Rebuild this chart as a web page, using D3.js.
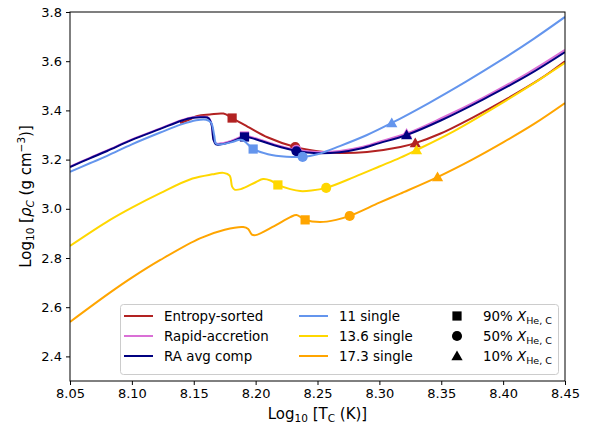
<!DOCTYPE html>
<html><head><meta charset="utf-8">
<script src="https://cdn.jsdelivr.net/npm/d3@7"></script>
<style>body{margin:0;background:#fff}svg{display:block}text{font-family:"DejaVu Sans",sans-serif;fill:#000}</style>
</head><body><svg id="c" width="589" height="427"></svg>
<script>
// ---- data ----
const entropyT   = [8.139, 8.146, 8.153, 8.163, 8.174, 8.181, 8.195, 8.21, 8.232, 8.25, 8.268, 8.29, 8.317, 8.329, 8.349, 8.375, 8.403, 8.43, 8.45];
const entropyRho = [3.349, 3.362, 3.377, 3.383, 3.387, 3.369, 3.33, 3.29, 3.251, 3.234, 3.227, 3.231, 3.251, 3.267, 3.305, 3.37, 3.447, 3.528, 3.60];

const rapidT   = [8.05, 8.066, 8.08, 8.10, 8.123, 8.14, 8.149, 8.158, 8.162, 8.1645, 8.166, 8.168, 8.172, 8.18, 8.191, 8.20, 8.215, 8.233, 8.25, 8.268, 8.285, 8.30, 8.322, 8.35, 8.384, 8.42, 8.45];
const rapidRho = [3.172, 3.207, 3.237, 3.282, 3.327, 3.36, 3.372, 3.374, 3.37, 3.343, 3.284, 3.266, 3.266, 3.276, 3.296, 3.287, 3.262, 3.24, 3.231, 3.235, 3.25, 3.273, 3.306, 3.368, 3.452, 3.552, 3.646];

const raAvgT   = [8.05, 8.066, 8.08, 8.10, 8.123, 8.14, 8.149, 8.158, 8.162, 8.1645, 8.166, 8.168, 8.172, 8.18, 8.191, 8.20, 8.215, 8.233, 8.25, 8.268, 8.285, 8.30, 8.322, 8.35, 8.384, 8.42, 8.45];
const raAvgRho = [3.17, 3.205, 3.235, 3.28, 3.325, 3.358, 3.37, 3.372, 3.368, 3.34, 3.28, 3.262, 3.262, 3.272, 3.292, 3.283, 3.258, 3.235, 3.226, 3.23, 3.245, 3.267, 3.30, 3.36, 3.445, 3.543, 3.637];

const s11T   = [8.05, 8.066, 8.08, 8.10, 8.123, 8.14, 8.152, 8.16, 8.164, 8.1665, 8.168, 8.172, 8.18, 8.189, 8.198, 8.21, 8.225, 8.238, 8.25, 8.268, 8.29, 8.31, 8.34, 8.37, 8.397, 8.425, 8.45];
const s11Rho = [3.15, 3.185, 3.215, 3.262, 3.31, 3.343, 3.36, 3.362, 3.35, 3.30, 3.265, 3.262, 3.27, 3.28, 3.243, 3.222, 3.212, 3.211, 3.222, 3.255, 3.30, 3.349, 3.43, 3.517, 3.60, 3.692, 3.78];

const s136T   = [8.05, 8.082, 8.10, 8.123, 8.149, 8.165, 8.174, 8.179, 8.181, 8.183, 8.188, 8.20, 8.206, 8.212, 8.218, 8.228, 8.236, 8.245, 8.257, 8.28, 8.30, 8.317, 8.33, 8.36, 8.403, 8.43, 8.45];
const s136Rho = [2.849, 2.954, 3.005, 3.064, 3.123, 3.14, 3.146, 3.135, 3.09, 3.078, 3.08, 3.108, 3.121, 3.115, 3.097, 3.08, 3.072, 3.074, 3.085, 3.13, 3.172, 3.208, 3.239, 3.315, 3.442, 3.527, 3.593];

const s173T   = [8.05, 8.082, 8.10, 8.123, 8.155, 8.175, 8.19, 8.194, 8.197, 8.20, 8.215, 8.228, 8.233, 8.24, 8.252, 8.265, 8.276, 8.30, 8.317, 8.347, 8.375, 8.40, 8.425, 8.45];
const s173Rho = [2.54, 2.658, 2.72, 2.792, 2.88, 2.915, 2.926, 2.918, 2.895, 2.893, 2.93, 2.966, 2.975, 2.955, 2.946, 2.955, 2.971, 3.025, 3.062, 3.129, 3.20, 3.27, 3.345, 3.43];

// He fraction markers: [T, rho] for 90%, 50%, 10% per series
const entropyMarks = [[8.181, 3.369], [8.232, 3.251], [8.329, 3.267]];
const rapidMarks   = [[8.191, 3.296], [8.233, 3.24], [8.322, 3.306]];
const raAvgMarks   = [[8.191, 3.292], [8.233, 3.234], [8.322, 3.30]];
const s11Marks     = [[8.198, 3.243], [8.238, 3.211], [8.310, 3.349]];
const s136Marks    = [[8.218, 3.097], [8.257, 3.085], [8.330, 3.239]];
const s173Marks    = [[8.240, 2.955], [8.276, 2.971], [8.347, 3.129]];

const seriesNames = ["Entropy-sorted", "Rapid-accretion", "RA avg comp", "11 single", "13.6 single", "17.3 single"];
const markerNames = ["90%", "50%", "10%"];
const xTicks = [8.05, 8.10, 8.15, 8.20, 8.25, 8.30, 8.35, 8.40, 8.45];
const yTicks = [2.4, 2.6, 2.8, 3.0, 3.2, 3.4, 3.6, 3.8];

// ---- drawing ----
const colors = ["#b22222", "#da70d6", "#000080", "#6495ed", "#ffd700", "#ffa500"];
const series = [
  [entropyT, entropyRho, entropyMarks],
  [rapidT, rapidRho, rapidMarks],
  [raAvgT, raAvgRho, raAvgMarks],
  [s11T, s11Rho, s11Marks],
  [s136T, s136Rho, s136Marks],
  [s173T, s173Rho, s173Marks]
];
const L = 70, R = 565, T = 12, B = 381;
const svg = d3.select("#c");
const x = d3.scaleLinear().domain([8.05, 8.45]).range([L, R]);
const y = d3.scaleLinear().domain([2.3, 3.8]).range([B, T]);

svg.append("defs").append("clipPath").attr("id", "clip")
  .append("rect").attr("x", L).attr("y", T).attr("width", R - L).attr("height", B - T);

const symbols = [d3.symbolSquare, d3.symbolCircle, d3.symbolTriangle];
const symSizes = [85, 80, 55];
const line = d3.line().x(d => x(d[0])).y(d => y(d[1])).curve(d3.curveCatmullRom.alpha(0.5));
const plot = svg.append("g").attr("clip-path", "url(#clip)");
series.forEach((s, i) => {
  const pts = s[0].map((t, k) => [t, s[1][k]]);
  plot.append("path").attr("d", line(pts)).attr("fill", "none")
    .attr("stroke", colors[i]).attr("stroke-width", 2).attr("stroke-linejoin", "round");
  s[2].forEach((m, k) => {
    plot.append("path").attr("d", d3.symbol().type(symbols[k]).size(symSizes[k])())
      .attr("transform", `translate(${x(m[0])},${y(m[1]) + (k === 2 ? 1 : 0)})`)
      .attr("fill", colors[i]);
  });
});

// axes
const xAxis = svg.append("g").attr("transform", `translate(0,${B})`)
  .call(d3.axisBottom(x).tickValues(xTicks).tickFormat(d3.format(".2f")).tickSizeOuter(0).tickSize(4).tickPadding(4));
const yAxis = svg.append("g").attr("transform", `translate(${L},0)`)
  .call(d3.axisLeft(y).tickValues(yTicks).tickFormat(d3.format(".1f")).tickSizeOuter(0).tickSize(4).tickPadding(4));
[xAxis, yAxis].forEach(a => {
  a.select(".domain").remove();
  a.selectAll("text").attr("font-size", 13).attr("font-family", "DejaVu Sans").attr("fill", "#000");
  a.selectAll("line").attr("stroke", "#000").attr("stroke-width", 1);
});
svg.append("rect").attr("x", L).attr("y", T).attr("width", R - L).attr("height", B - T)
  .attr("fill", "none").attr("stroke", "#000").attr("stroke-width", 1);

// axis labels
const xl = svg.append("text").attr("x", (L + R) / 2).attr("y", 419).attr("text-anchor", "middle").attr("font-size", 15);
xl.append("tspan").text("Log");
xl.append("tspan").text("10").attr("font-size", 10.5).attr("dy", 3);
xl.append("tspan").text(" [T").attr("dy", -3);
xl.append("tspan").text("C").attr("font-size", 10.5).attr("dy", 3);
xl.append("tspan").text(" (K)]").attr("dy", -3);

const yl = svg.append("text").attr("transform", `translate(31,${(T + B) / 2}) rotate(-90)`).attr("text-anchor", "middle").attr("font-size", 15);
yl.append("tspan").text("Log");
yl.append("tspan").text("10").attr("font-size", 10.5).attr("dy", 3);
yl.append("tspan").text(" [").attr("dy", -3);
yl.append("tspan").text("ρ").attr("font-style", "italic");
yl.append("tspan").text("C").attr("font-size", 10.5).attr("dy", 3).attr("font-style", "italic");
yl.append("tspan").text(" (g cm").attr("dy", -3);
yl.append("tspan").text("−3").attr("font-size", 10.5).attr("dy", -6);
yl.append("tspan").text(")]").attr("dy", 6);

// legend
const lg = svg.append("g");
lg.append("rect").attr("x", 120.5).attr("y", 304.5).attr("width", 438).attr("height", 70).attr("rx", 3)
  .attr("fill", "#fff").attr("fill-opacity", 0.8).attr("stroke", "#ccc").attr("stroke-width", 1);
const rowsY = [316, 336, 356];
seriesNames.forEach((n, i) => {
  const col = Math.floor(i / 3), r = i % 3;
  const lx = col === 0 ? 124 : 299;
  lg.append("line").attr("x1", lx).attr("x2", lx + 29).attr("y1", rowsY[r]).attr("y2", rowsY[r])
    .attr("stroke", colors[i]).attr("stroke-width", 2);
  lg.append("text").attr("x", lx + 40).attr("y", rowsY[r] + 5).attr("font-size", 13.4).text(n);
});
markerNames.forEach((n, k) => {
  lg.append("path").attr("d", d3.symbol().type(symbols[k]).size(symSizes[k])())
    .attr("transform", `translate(457,${rowsY[k] + (k === 2 ? 1 : 0)})`).attr("fill", "#000");
  const t = lg.append("text").attr("x", 483).attr("y", rowsY[k] + 5).attr("font-size", 13.4);
  t.append("tspan").text(n + " ");
  t.append("tspan").text("X").attr("font-style", "italic");
  t.append("tspan").text("He, C").attr("font-size", 9.5).attr("dy", 3);
});
</script></body></html>
